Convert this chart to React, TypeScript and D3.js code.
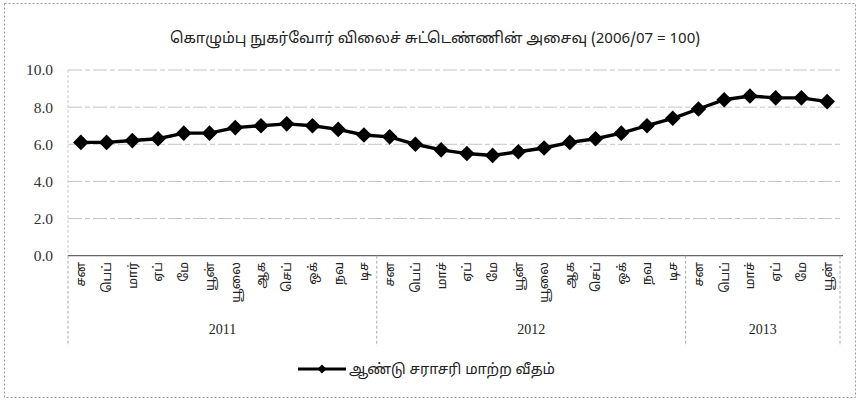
import React from "react";
import * as d3 from "d3";

const title = "கொழும்பு நுகர்வோர் விலைச் சுட்டெண்ணின் அசைவு (2006/07 = 100)";
const legendLabel = "ஆண்டு சராசரி மாற்ற வீதம்";
const months2011 = ["சன", "பெப்", "மார்", "ஏப்", "மே", "யூன்", "யூலை", "ஆக", "செப்", "ஒக்", "நவ", "டிச"];
const months2012 = ["சன", "பெப்", "மாச்", "ஏப்", "மே", "யூன்", "யூலை", "ஆக", "செப்", "ஒக்", "நவ", "டிச"];
const months2013 = ["சன", "பெப்", "மாச்", "ஏப்", "மே", "யூன்"];
const years = ["2011", "2012", "2013"];
const values2011 = [6.1, 6.1, 6.2, 6.3, 6.6, 6.6, 6.9, 7.0, 7.1, 7.0, 6.8, 6.5];
const values2012 = [6.4, 6.0, 5.7, 5.5, 5.4, 5.6, 5.8, 6.1, 6.3, 6.6, 7.0, 7.4];
const values2013 = [7.9, 8.4, 8.6, 8.5, 8.5, 8.3];
const yTicks = [0, 2, 4, 6, 8, 10];

const W = 861;
const H = 402;
const tamilFont = "'Noto Sans Tamil', 'Noto Sans', 'Lohit Tamil', sans-serif";
const numFont = "'Liberation Serif', 'DejaVu Serif', serif";

export default function App() {
  const groups = [months2011, months2012, months2013];
  const series = [values2011, values2012, values2013];
  const points: { label: string; value: number; year: number; idx: number }[] = [];
  groups.forEach((g, gi) =>
    g.forEach((m, mi) => points.push({ label: m, value: series[gi][mi], year: gi, idx: points.length }))
  );

  const x = d3.scaleBand<number>().domain(points.map((p) => p.idx)).range([68, 840]).padding(0);
  const y = d3.scaleLinear().domain([0, 10]).range([255.7, 70]);
  const cx = (i: number) => (x(i) as number) + x.bandwidth() / 2;

  const line = d3
    .line<{ idx: number; value: number }>()
    .x((d) => cx(d.idx))
    .y((d) => y(d.value));

  const diamond = d3.symbol().type(d3.symbolSquare).size(122)();
  const smallDiamond = d3.symbol().type(d3.symbolSquare).size(40)();

  const groupStarts: number[] = [];
  let acc = 0;
  groups.forEach((g) => {
    groupStarts.push(acc);
    acc += g.length;
  });
  const separators = groupStarts.map((s) => x(s) as number).concat([840]);

  return (
    <svg width={W} height={H} style={{ position: "absolute", left: 0, top: 0, background: "#fff" }}>
      <rect x={4.5} y={3.5} width={851} height={394} fill="none" stroke="#9a9a9a" strokeDasharray="2,2" />
      <text x={435} y={43} textAnchor="middle" fontFamily={tamilFont} fontSize={15} fill="#222">
        {title}
      </text>

      {yTicks.map((t) => (
        <g key={t}>
          {t !== 0 && (
            <line x1={68} x2={843} y1={y(t)} y2={y(t)} stroke="#c4c4c4" strokeWidth={1} strokeDasharray="14,3,5,3" />
          )}
          <text x={53} y={y(t)} dy="0.35em" textAnchor="end" fontFamily={numFont} fontSize={15.5} fill="#333">
            {t.toFixed(1)}
          </text>
        </g>
      ))}
      <line x1={68} x2={68} y1={70} y2={255.7} stroke="#c8c8c8" strokeDasharray="3,2" />
      <line x1={68} x2={843} y1={y(0)} y2={y(0)} stroke="#666" strokeWidth={1.3} />

      {separators.map((sx, i) => (
        <line key={i} x1={sx} x2={sx} y1={y(0)} y2={346} stroke="#aaa" strokeDasharray="3,2" />
      ))}

      {points.map((p) => (
        <text
          key={p.idx}
          transform={`translate(${cx(p.idx)},${262}) rotate(-90)`}
          textAnchor="end"
          dy="0.35em"
          fontFamily={tamilFont}
          fontSize={12.5}
          fill="#222"
        >
          {p.label}
        </text>
      ))}

      {years.map((yr, gi) => {
        const start = separators[gi];
        const end = separators[gi + 1];
        return (
          <text key={yr} x={(start + end) / 2} y={334} textAnchor="middle" fontFamily={numFont} fontSize={14} fill="#222">
            {yr}
          </text>
        );
      })}

      <path d={line(points) || ""} fill="none" stroke="#000" strokeWidth={3.4} />
      {points.map((p) => (
        <path key={p.idx} d={diamond} transform={`translate(${cx(p.idx)},${y(p.value)}) rotate(45)`} fill="#000" />
      ))}

      <line x1={298} x2={346} y1={369} y2={369} stroke="#000" strokeWidth={3} />
      <path d={smallDiamond} transform={`translate(322,369) rotate(45)`} fill="#000" />
      <text x={349} y={369} dy="0.35em" fontFamily={tamilFont} fontSize={14.5} fill="#222">
        {legendLabel}
      </text>
    </svg>
  );
}
